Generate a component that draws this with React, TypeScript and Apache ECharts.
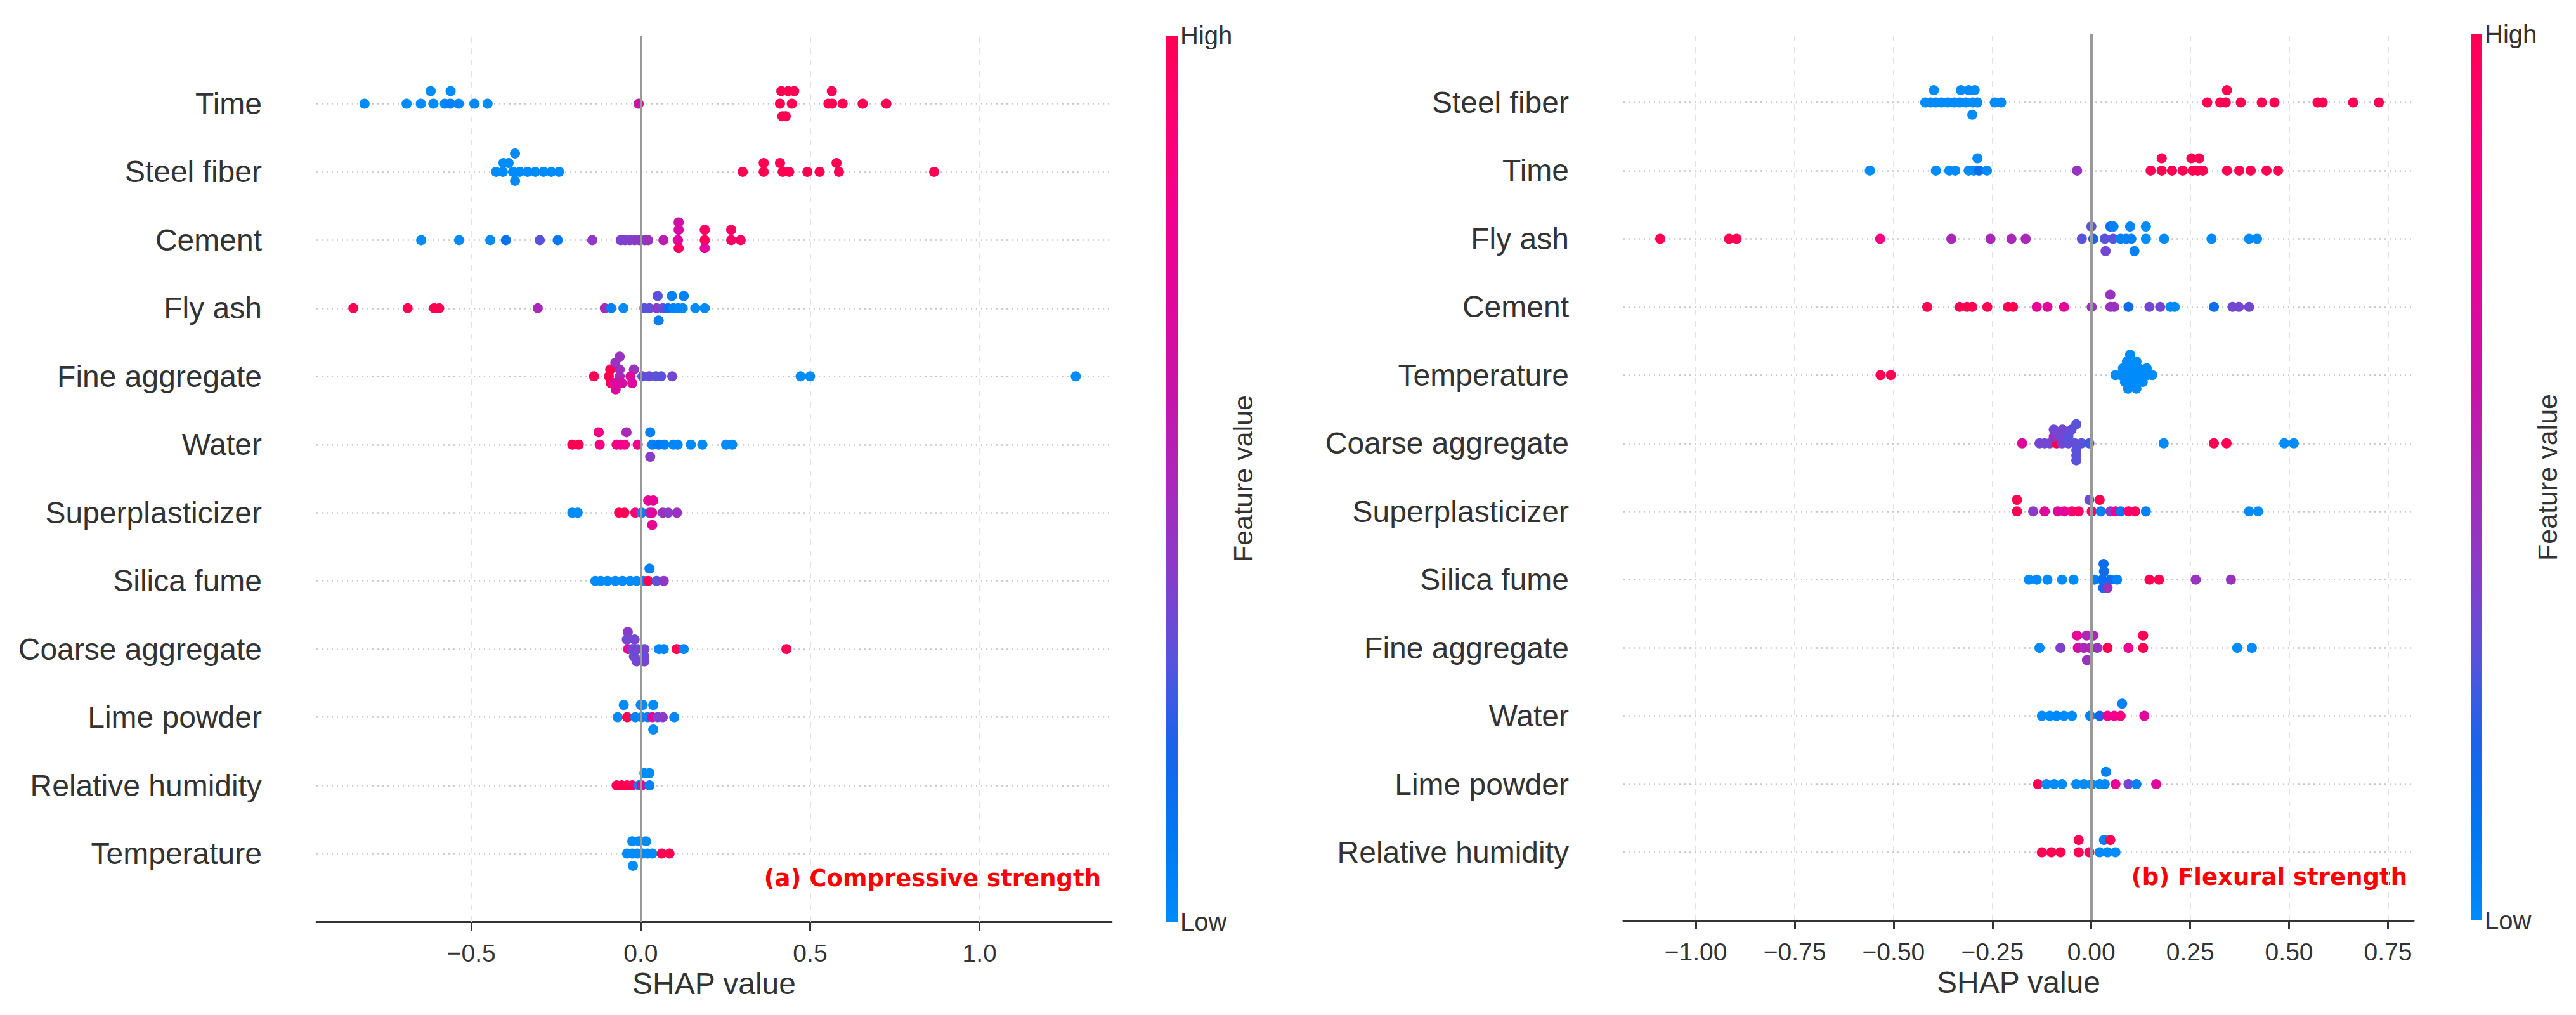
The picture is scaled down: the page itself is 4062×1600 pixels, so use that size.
import React, { useEffect, useRef } from "react";
import * as echarts from "echarts";

type Pt = [number, number, number]; // [SHAP value, vertical jitter (rows), feature value 0..1]

// ---------- (a) Compressive strength ----------
const compFeatures = [
  "Time", "Steel fiber", "Cement", "Fly ash", "Fine aggregate", "Water",
  "Superplasticizer", "Silica fume", "Coarse aggregate", "Lime powder",
  "Relative humidity", "Temperature",
];
const cTime: Pt[] = [
  [-0.815, 0, 0], [-0.691, 0, 0], [-0.649, 0, 0], [-0.612, 0, 0], [-0.578, 0, 0.02], [-0.562, 0, 0.05],
  [-0.537, 0, 0.03], [-0.491, 0, 0.02], [-0.452, 0, 0], [-0.62, 0.185, 0], [-0.561, 0.185, 0],
  [-0.006, 0, 0.6],
  [0.411, 0, 1], [0.446, 0, 1], [0.554, 0, 1], [0.565, 0, 1], [0.596, 0, 1], [0.655, 0, 1], [0.725, 0, 1],
  [0.415, 0.185, 1], [0.435, 0.185, 1], [0.453, 0.185, 1], [0.564, 0.185, 1],
  [0.418, -0.185, 1], [0.428, -0.185, 1],
];
const cSteel: Pt[] = [
  [-0.427, 0, 0], [-0.407, 0, 0], [-0.377, 0, 0], [-0.357, 0, 0], [-0.334, 0, 0], [-0.311, 0, 0],
  [-0.287, 0, 0], [-0.264, 0, 0], [-0.241, 0, 0], [-0.405, 0.13, 0], [-0.39, 0.13, 0],
  [-0.371, 0.27, 0], [-0.371, -0.13, 0],
  [0.301, 0, 1], [0.363, 0, 1], [0.419, 0, 1], [0.438, 0, 1], [0.492, 0, 1], [0.528, 0, 1], [0.585, 0, 1],
  [0.866, 0, 1], [0.363, 0.13, 1], [0.411, 0.13, 1], [0.578, 0.13, 1],
];
const cCement: Pt[] = [
  [-0.648, 0, 0], [-0.536, 0, 0], [-0.444, 0, 0], [-0.398, 0, 0.12], [-0.245, 0, 0.1],
  [-0.298, 0, 0.3], [-0.143, 0, 0.42],
  [-0.059, 0, 0.38], [-0.046, 0, 0.35], [-0.032, 0, 0.4], [-0.018, 0, 0.38], [-0.004, 0, 0.42],
  [0.012, 0, 0.4], [0.022, 0, 0.45], [0.067, 0, 0.55],
  [0.112, 0.26, 0.62], [0.112, 0.15, 0.65], [0.11, 0, 0.7], [0.112, -0.12, 0.95],
  [0.189, 0.15, 0.95], [0.189, 0, 0.98], [0.189, -0.12, 0.7],
  [0.267, 0.15, 0.95], [0.267, 0, 0.95], [0.295, 0, 0.95],
];
const cFly: Pt[] = [
  [-0.848, 0, 1], [-0.688, 0, 1], [-0.61, 0, 1], [-0.595, 0, 1], [-0.304, 0, 0.5],
  [-0.106, 0, 0.5], [-0.087, 0, 0.05], [-0.051, 0, 0],
  [0.011, 0, 0.3], [0.026, 0, 0.3], [0.047, 0, 0.4], [0.065, 0, 0.33], [0.08, 0, 0.15], [0.096, 0, 0.05],
  [0.11, 0, 0.02], [0.124, 0, 0.02], [0.161, 0, 0], [0.189, 0, 0],
  [0.05, 0.18, 0.3], [0.092, 0.18, 0.05], [0.127, 0.18, 0.05], [0.053, -0.18, 0.05],
];
const cFine: Pt[] = [
  [-0.138, 0, 1], [-0.094, 0, 1], [-0.09, 0.1, 1], [-0.088, -0.1, 1], [-0.075, 0.2, 0.45],
  [-0.062, 0.29, 0.45], [-0.062, 0.1, 0.45], [-0.062, 0, 0.5], [-0.074, -0.19, 0.7], [-0.08, -0.1, 0.7],
  [-0.055, -0.1, 0.65], [-0.02, 0.1, 0.45], [-0.025, -0.1, 0.7], [-0.03, 0, 0.7],
  [0.005, 0, 0.3], [0.025, 0, 0.32], [0.045, 0, 0.3], [0.06, 0, 0.3], [0.093, 0, 0.35],
  [0.472, 0, 0], [0.5, 0, 0], [1.284, 0, 0],
];
const cWater: Pt[] = [
  [-0.202, 0, 1], [-0.183, 0, 1], [-0.124, 0.18, 0.85], [-0.042, 0.18, 0.5], [0.028, 0.18, 0.05],
  [-0.121, 0, 0.85], [-0.071, 0, 0.85], [-0.059, 0, 0.8], [-0.047, 0, 0.82], [-0.009, 0, 0.8],
  [0.034, 0, 0.05], [0.053, 0, 0.08], [0.07, 0, 0.05], [0.096, 0, 0.02], [0.109, 0, 0.02],
  [0.148, 0, 0], [0.182, 0, 0], [0.252, 0, 0], [0.27, 0, 0], [0.028, -0.18, 0.4],
];
const cSuper: Pt[] = [
  [-0.202, 0, 0], [-0.186, 0, 0], [-0.064, 0, 1], [-0.048, 0, 1], [-0.016, 0, 0.9], [0.003, 0, 0.05],
  [0.026, 0, 0.45], [0.034, 0, 0.7], [0.065, 0, 0.45], [0.081, 0, 0.4], [0.107, 0, 0.45],
  [0.022, 0.18, 0.75], [0.037, 0.18, 0.75], [0.034, -0.18, 0.75],
];
const cSilica: Pt[] = [
  [-0.134, 0, 0], [-0.118, 0, 0], [-0.098, 0, 0], [-0.075, 0, 0], [-0.054, 0, 0], [-0.031, 0, 0],
  [-0.012, 0, 0], [0.008, 0, 0], [0.022, 0, 1], [0.047, 0, 0.3], [0.068, 0, 0.42], [0.026, 0.18, 0.05],
];
const cCoarse: Pt[] = [
  [-0.038, 0.25, 0.4], [-0.041, 0.14, 0.35], [-0.018, 0.14, 0.35], [-0.037, 0, 0.75], [-0.025, 0, 0.35],
  [-0.009, 0, 0.35], [0.011, 0, 0.35], [-0.02, -0.11, 0.33], [0.011, -0.11, 0.33], [-0.012, -0.18, 0.35],
  [0.011, -0.18, 0.35], [0.054, 0, 0.02], [0.068, 0, 0.02], [0.106, 0, 1], [0.127, 0, 0.02], [0.43, 0, 1],
];
const cLime: Pt[] = [
  [-0.05, 0.18, 0], [0.0, 0.18, 0], [0.006, 0.18, 0], [0.037, 0.18, 0],
  [-0.068, 0, 0], [-0.04, 0, 1], [-0.016, 0, 0.05], [0.003, 0, 0.02], [0.02, 0, 0.05], [0.034, 0, 0.7],
  [0.05, 0, 0.35], [0.065, 0, 0.4], [0.099, 0, 0.02], [0.037, -0.18, 0],
];
const cRH: Pt[] = [
  [0.011, 0.18, 0], [0.026, 0.18, 0], [-0.071, 0, 1], [-0.056, 0, 1], [-0.04, 0, 1], [-0.025, 0, 0.95],
  [-0.005, 0, 0.05], [0.003, 0, 0.7], [0.026, 0, 0.05],
];
const cTemp: Pt[] = [
  [-0.025, 0.18, 0], [-0.005, 0.18, 0], [0.016, 0.18, 0],
  [-0.04, 0, 0], [-0.025, 0, 0], [-0.01, 0, 0], [0.005, 0, 0], [0.02, 0, 0], [0.034, 0, 0],
  [0.062, 0, 1], [0.085, 0, 1], [-0.023, -0.18, 0],
];
const compRows = [cTime, cSteel, cCement, cFly, cFine, cWater, cSuper, cSilica, cCoarse, cLime, cRH, cTemp];
const compTicks = [-0.5, 0, 0.5, 1.0];
const compRange = [-0.957, 1.39];

// ---------- (b) Flexural strength ----------
const flexFeatures = [
  "Steel fiber", "Time", "Fly ash", "Cement", "Temperature", "Coarse aggregate",
  "Superplasticizer", "Silica fume", "Fine aggregate", "Water", "Lime powder", "Relative humidity",
];
const fSteel: Pt[] = [
  [-0.42, 0, 0], [-0.407, 0, 0], [-0.394, 0, 0], [-0.379, 0, 0], [-0.363, 0, 0], [-0.347, 0, 0],
  [-0.333, 0, 0], [-0.317, 0, 0], [-0.3, 0, 0], [-0.288, 0, 0], [-0.244, 0, 0], [-0.228, 0, 0],
  [-0.398, 0.18, 0], [-0.33, 0.18, 0], [-0.31, 0.18, 0], [-0.295, 0.18, 0], [-0.301, -0.18, 0],
  [0.293, 0, 1], [0.326, 0, 1], [0.34, 0, 1], [0.378, 0, 1], [0.431, 0, 1], [0.463, 0, 1],
  [0.572, 0, 1], [0.585, 0, 1], [0.662, 0, 1], [0.727, 0, 1], [0.343, 0.18, 1],
];
const fTime: Pt[] = [
  [-0.56, 0, 0], [-0.393, 0, 0], [-0.359, 0, 0], [-0.344, 0, 0], [-0.31, 0, 0], [-0.297, 0, 0],
  [-0.284, 0, 0.15], [-0.264, 0, 0], [-0.288, 0.18, 0], [-0.036, 0, 0.45],
  [0.15, 0, 1], [0.178, 0, 1], [0.204, 0, 1], [0.231, 0, 1], [0.256, 0, 1], [0.269, 0, 1], [0.282, 0, 1],
  [0.343, 0, 1], [0.374, 0, 1], [0.403, 0, 1], [0.443, 0, 1], [0.472, 0, 1],
  [0.178, 0.18, 1], [0.253, 0.18, 1], [0.273, 0.18, 1],
];
const fFly: Pt[] = [
  [-1.09, 0, 1], [-0.916, 0, 1], [-0.897, 0, 1], [-0.534, 0, 0.85],
  [-0.354, 0, 0.5], [-0.255, 0, 0.5], [-0.202, 0, 0.5], [-0.166, 0, 0.5],
  [-0.024, 0, 0.3], [0.005, 0, 0.2], [0.034, 0, 0.3], [0.055, 0, 0.3], [0.074, 0, 0.05], [0.088, 0, 0.05],
  [0.101, 0, 0.05], [0.138, 0, 0], [0.184, 0, 0], [0.304, 0, 0], [0.399, 0, 0], [0.419, 0, 0],
  [0.0, 0.18, 0.3], [0.048, 0.18, 0.15], [0.056, 0.18, 0.05], [0.098, 0.18, 0.02], [0.138, 0.18, 0],
  [0.036, -0.18, 0.35], [0.109, -0.18, 0.05],
];
const fCement: Pt[] = [
  [-0.415, 0, 1], [-0.333, 0, 1], [-0.314, 0, 1], [-0.301, 0, 1], [-0.263, 0, 1], [-0.211, 0, 1], [-0.198, 0, 1],
  [-0.138, 0, 0.75], [-0.111, 0, 0.7], [-0.069, 0, 0.72],
  [0.001, 0, 0.45], [0.048, 0, 0.45], [0.058, 0, 0.45], [0.094, 0, 0.15], [0.147, 0, 0.35], [0.174, 0, 0.35],
  [0.2, 0, 0], [0.211, 0, 0], [0.31, 0, 0.15], [0.357, 0, 0.35], [0.373, 0, 0.35], [0.399, 0, 0.35],
  [0.048, 0.18, 0.45],
];
const fTemp: Pt[] = [
  [-0.533, 0, 1], [-0.507, 0, 1],
  [0.061, 0, 0], [0.074, 0, 0], [0.088, 0, 0], [0.101, 0, 0], [0.114, 0, 0], [0.127, 0, 0], [0.141, 0, 0], [0.154, 0, 0],
  [0.08, 0.1, 0], [0.1, 0.1, 0], [0.12, 0.1, 0], [0.14, 0.1, 0], [0.09, 0.2, 0], [0.114, 0.2, 0], [0.098, 0.3, 0],
  [0.085, -0.1, 0], [0.107, -0.1, 0], [0.13, -0.1, 0], [0.093, -0.2, 0], [0.114, -0.2, 0],
];
const fCoarse: Pt[] = [
  [-0.175, 0, 0.7], [-0.131, 0, 0.35], [-0.118, 0, 0.35], [-0.105, 0, 0.35], [-0.088, 0, 1], [-0.074, 0, 0.35],
  [-0.058, 0, 0.32], [-0.042, 0, 0.32], [-0.025, 0, 0.3], [-0.005, 0, 0.25],
  [-0.095, 0.1, 0.45], [-0.078, 0.1, 0.35], [-0.058, 0.1, 0.3], [-0.095, 0.2, 0.35], [-0.073, 0.2, 0.35],
  [-0.05, 0.2, 0.32], [-0.038, 0.28, 0.3], [-0.038, -0.1, 0.3], [-0.038, -0.18, 0.3], [-0.038, -0.25, 0.3],
  [0.183, 0, 0], [0.31, 0, 1], [0.342, 0, 1], [0.488, 0, 0], [0.512, 0, 0],
];
const fSuper: Pt[] = [
  [-0.188, 0.17, 1], [-0.005, 0.17, 0.35], [0.021, 0.17, 1],
  [-0.188, 0, 1], [-0.147, 0, 0.4], [-0.118, 0, 0.7], [-0.085, 0, 0.7], [-0.068, 0, 0.72], [-0.049, 0, 0.9],
  [-0.032, 0, 0.95], [0.001, 0, 0.95], [0.024, 0, 0.05], [0.048, 0, 0.4], [0.061, 0, 0.75], [0.074, 0, 0.1],
  [0.094, 0, 0.95], [0.111, 0, 0.95], [0.138, 0, 0.05], [0.399, 0, 0], [0.422, 0, 0],
];
const fSilica: Pt[] = [
  [-0.158, 0, 0], [-0.138, 0, 0], [-0.111, 0, 0], [-0.074, 0, 0], [-0.045, 0, 0],
  [0.008, 0, 0.05], [0.028, 0, 0.15], [0.048, 0, 0.15], [0.065, 0, 0.05],
  [0.032, 0.12, 0.15], [0.031, 0.23, 0.15], [0.03, -0.12, 0.15], [0.041, -0.12, 0.45],
  [0.147, 0, 1], [0.171, 0, 1], [0.264, 0, 0.45], [0.353, 0, 0.45],
];
const fFine: Pt[] = [
  [-0.131, 0, 0], [-0.078, 0, 0.38], [-0.034, 0, 0.65], [-0.019, 0, 0.5], [-0.003, 0, 0.5], [0.015, 0, 0.45],
  [0.041, 0, 1], [0.094, 0, 0.8], [0.131, 0, 1], [0.369, 0, 0], [0.406, 0, 0],
  [-0.036, 0.18, 0.75], [-0.012, 0.18, 0.5], [0.005, 0.18, 0.5], [0.131, 0.18, 1], [-0.011, -0.18, 0.45],
];
const fWater: Pt[] = [
  [-0.125, 0, 0], [-0.105, 0, 0], [-0.088, 0, 0.02], [-0.069, 0, 0], [-0.049, 0, 0], [-0.003, 0, 0.05],
  [0.021, 0, 0.2], [0.041, 0, 0.8], [0.058, 0, 0.8], [0.074, 0, 0.85], [0.134, 0, 0.7], [0.078, 0.18, 0.05],
];
const fLime: Pt[] = [
  [-0.135, 0, 1], [-0.114, 0, 0], [-0.094, 0, 0], [-0.074, 0, 0], [-0.038, 0, 0], [-0.019, 0, 0], [0.001, 0, 0],
  [0.021, 0, 0], [0.034, 0, 0.02], [0.061, 0, 0.75], [0.094, 0, 0.35], [0.114, 0, 0.05], [0.164, 0, 0.7],
  [0.037, 0.18, 0.05],
];
const fRH: Pt[] = [
  [-0.125, 0, 1], [-0.101, 0, 1], [-0.078, 0, 1], [-0.032, 0, 1], [-0.005, 0, 0.95], [0.021, 0, 0],
  [0.041, 0, 0], [0.061, 0, 0], [-0.032, 0.18, 1], [0.032, 0.18, 0.05], [0.048, 0.18, 1],
];
const flexRows = [fSteel, fTime, fFly, fCement, fTemp, fCoarse, fSuper, fSilica, fFine, fWater, fLime, fRH];
const flexTicks = [-1.0, -0.75, -0.5, -0.25, 0, 0.25, 0.5, 0.75];
const flexRange = [-1.183, 0.815];

// shap red-blue colour map (low -> high)
const colorStops = [
  "#008bfb", "#0077f3", "#1a63ea", "#5b52dc", "#8a3cc8", "#aa28b8",
  "#c814a8", "#e0079c", "#f2008e", "#fc0074", "#ff0052",
];

const FONT = "Liberation Sans, Arial, sans-serif";
const TXT = "#333333";

function buildPoints(features: string[], rows: Pt[][]) {
  const n = features.length;
  const out: number[][] = [];
  rows.forEach((r, i) => r.forEach(([x, dy, fv]) => out.push([x, n - 1 - i + dy, fv])));
  return out;
}

function fmtMinus(s: string) {
  return s.replace("-", "\u2212");
}

export default function App() {
  const ref = useRef<HTMLDivElement>(null);
  useEffect(() => {
    if (!ref.current) return;
    const chart = echarts.init(ref.current, undefined, { renderer: "svg" });

    const panels = [
      { features: compFeatures, rows: compRows, ticks: compTicks, range: compRange, dec: 1,
        left: 499, top: 56, width: 1254, height: 1397, title: "(a) Compressive strength", titleX: 1736, titleY: 1384,
        cbX: 1839 },
      { features: flexFeatures, rows: flexRows, ticks: flexTicks, range: flexRange, dec: 2,
        left: 2560, top: 54, width: 1246, height: 1397, title: "(b) Flexural strength", titleX: 3796, titleY: 1382,
        cbX: 3896 },
    ];

    const grid: any[] = [];
    const xAxis: any[] = [];
    const yAxis: any[] = [];
    const series: any[] = [];
    const graphic: any[] = [];
    const scatterIdx: number[] = [];

    panels.forEach((p, gi) => {
      const n = p.features.length;
      grid.push({ left: p.left, top: p.top, width: p.width, height: p.height, containLabel: false });
      xAxis.push({
        type: "value", gridIndex: gi, min: p.range[0], max: p.range[1],
        axisLine: { show: true, onZero: false, lineStyle: { color: TXT, width: 3 } },
        axisTick: { show: true, length: 14, customValues: p.ticks, lineStyle: { color: TXT, width: 3 } },
        axisLabel: {
          customValues: p.ticks, margin: 30, fontSize: 39, color: TXT, fontFamily: FONT,
          formatter: (v: number) => fmtMinus(v.toFixed(p.dec)),
        },
        splitLine: { show: false },
        name: "SHAP value", nameLocation: "middle", nameGap: 72,
        nameTextStyle: { fontSize: 48, color: TXT, fontFamily: FONT },
      });
      yAxis.push({
        type: "value", gridIndex: gi, min: -1, max: n, interval: 1,
        axisLine: { show: false }, axisTick: { show: false }, splitLine: { show: false },
        axisLabel: {
          margin: 86, fontSize: 48, color: TXT, fontFamily: FONT,
          formatter: (v: number) => {
            const k = Math.round(v);
            return k >= 0 && k <= n - 1 ? p.features[n - 1 - k] : "";
          },
        },
      });
      scatterIdx.push(series.length);
      series.push({
        type: "scatter", xAxisIndex: gi, yAxisIndex: gi, z: 2,
        symbol: "circle", symbolSize: 16, itemStyle: { opacity: 1 },
        data: buildPoints(p.features, p.rows), silent: true,
        markLine: {
          silent: true, symbol: "none", z: 1, label: { show: false }, animation: false,
          data: [
            ...p.ticks.map((t) => ({ xAxis: t, lineStyle: { color: "#e3e3e3", width: 2, type: [9, 9] } })),
            ...p.features.map((_, k) => ({ yAxis: k, lineStyle: { color: "#c6c6c6", width: 2.5, type: [2, 6] } })),
          ],
        },
      });
      series.push({
        type: "line", xAxisIndex: gi, yAxisIndex: gi, data: [], silent: true,
        markLine: {
          silent: true, symbol: "none", z: 6, label: { show: false }, animation: false,
          data: [{ xAxis: 0 }], lineStyle: { color: "#999999", width: 4, type: "solid" },
        },
      });

      // colour bar
      graphic.push({
        type: "rect", left: p.cbX, top: p.top, silent: true,
        shape: { width: 18, height: p.height },
        style: {
          fill: new echarts.graphic.LinearGradient(0, 1, 0, 0,
            colorStops.map((c, i) => ({ offset: i / (colorStops.length - 1), color: c }))),
        },
      });
      graphic.push({
        type: "text", x: p.cbX + 22, y: p.top, silent: true,
        style: { text: "High", fontSize: 40, fontFamily: FONT, fill: TXT, textVerticalAlign: "middle", textAlign: "left" },
      });
      graphic.push({
        type: "text", x: p.cbX + 22, y: p.top + p.height, silent: true,
        style: { text: "Low", fontSize: 40, fontFamily: FONT, fill: TXT, textVerticalAlign: "middle", textAlign: "left" },
      });
      graphic.push({
        type: "text", x: p.cbX + 121, y: p.top + p.height / 2, rotation: Math.PI / 2, silent: true,
        style: { text: "Feature value", fontSize: 43, fontFamily: FONT, fill: TXT, textVerticalAlign: "middle", textAlign: "center" },
      });
      graphic.push({
        type: "text", x: p.titleX, y: p.titleY, silent: true,
        style: {
          text: p.title, fontSize: 37, fontWeight: "bold", fontFamily: "DejaVu Sans, sans-serif",
          fill: "#ff0000", textVerticalAlign: "middle", textAlign: "right",
        },
      });
    });

    chart.setOption({
      animation: false,
      backgroundColor: "#ffffff",
      grid, xAxis, yAxis, series, graphic,
      visualMap: [{
        type: "continuous", show: false, seriesIndex: scatterIdx, dimension: 2, min: 0, max: 1,
        inRange: { color: colorStops },
      }],
    });
    return () => chart.dispose();
  }, []);

  return (
    <div
      ref={ref}
      style={{ position: "fixed", left: 0, top: 0, width: 4062, height: 1600, background: "#fff" }}
    />
  );
}
